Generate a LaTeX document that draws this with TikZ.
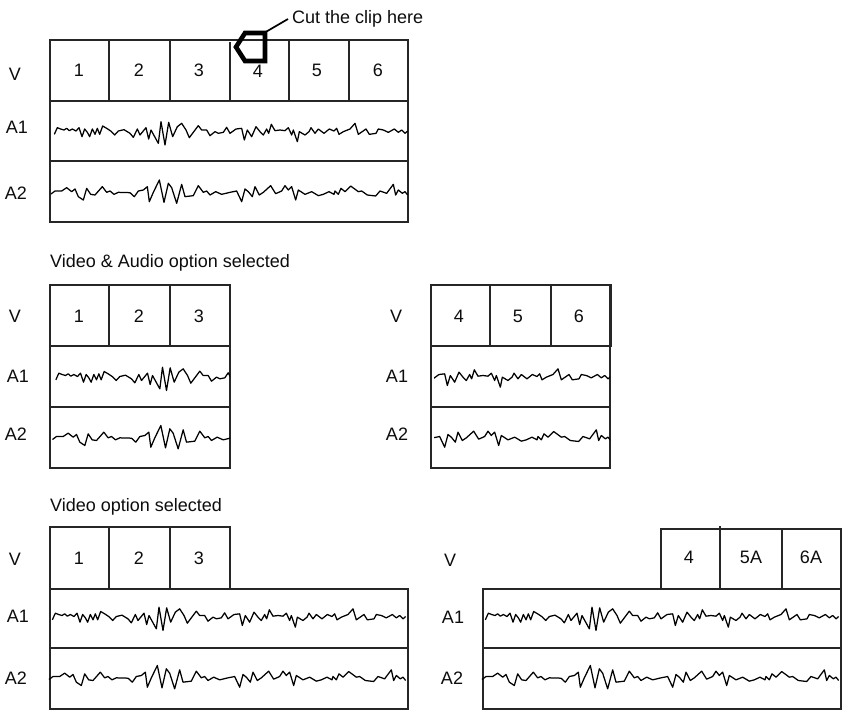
\documentclass[tikz,border=0pt]{standalone}
\usepackage{fontspec}
\setmainfont{Liberation Sans}
\newcommand{\waveOne}[1]{\begin{scope}[xshift=50pt,yshift=-115pt,xshift=#1,x=.33333pt,y=-.33333pt]
\draw[wave] plot coordinates {(13,58)(22,38)(32,42)(42,45)(50,40)(58,47)(67,42)(78,48)(87,38)(96,65)(104,42)(112,52)(119,65)(127,42)(135,58)(142,40)(149,58)(158,33)(170,40)(182,48)(194,60)(205,48)(222,44)(240,55)(250,67)(262,42)(270,60)(288,38)(296,72)(303,45)(325,85)(333,20)(345,90)(356,22)(368,65)(382,35)(395,25)(408,45)(418,68)(445,32)(455,45)(470,45)(480,62)(495,50)(505,55)(520,52)(530,37)(540,55)(558,42)(575,40)(583,75)(592,45)(605,65)(618,35)(630,50)(640,60)(650,42)(656,55)(664,28)(675,47)(690,45)(705,47)(715,38)(725,60)(730,45)(742,80)(748,50)(765,60)(777,50)(783,38)(795,55)(805,42)(822,55)(838,42)(852,48)(860,40)(867,58)(880,50)(900,42)(915,25)(925,58)(948,42)(958,58)(978,55)(985,42)(1000,45)(1015,52)(1033,42)(1045,52)(1055,45)(1065,55)(1073,48)};
\end{scope}}
\newcommand{\waveTwo}[1]{\begin{scope}[xshift=50pt,yshift=-115pt,xshift=#1,x=.33333pt,y=-.33333pt]
\draw[wave] plot coordinates {(3,237)(15,228)(35,228)(50,218)(65,230)(75,222)(85,245)(100,255)(110,220)(122,238)(135,240)(157,215)(170,232)(180,228)(192,238)(205,232)(240,233)(253,245)(265,228)(280,225)(292,215)(298,260)(310,232)(328,195)(342,262)(355,205)(365,218)(380,265)(395,208)(405,245)(430,242)(445,212)(460,232)(470,228)(480,240)(497,230)(515,238)(540,232)(560,228)(575,260)(585,222)(595,230)(607,245)(615,215)(628,240)(640,232)(662,212)(677,236)(695,228)(705,212)(715,225)(725,215)(737,255)(745,225)(765,238)(785,230)(805,242)(820,238)(837,230)(852,238)(855,228)(865,238)(873,220)(885,230)(902,213)(925,230)(935,228)(952,240)(977,243)(990,228)(1010,235)(1030,208)(1037,240)(1045,225)(1057,235)(1065,230)(1073,240)};
\end{scope}}
\tikzset{
 box/.style={line width=2.2pt,draw=black!85,line cap=rect},
 wave/.style={line width=1.25pt,line join=round,black},
 lab/.style={font=\fontsize{18}{20}\selectfont,text=black!95,inner sep=0pt,anchor=center,text height=12.5pt,text depth=0pt},
 head/.style={font=\fontsize{18}{20}\selectfont,text=black!95,inner sep=0pt,anchor=base west},
}
\begin{document}
\begin{tikzpicture}[x=1pt,y=-1pt]
\useasboundingbox[fill=white] (0,0) rectangle (847,718);
% top panel
\draw[box] (50,40) rectangle (408,222);
\draw[box] (50,101) -- (408,101) (50,161) -- (408,161);
\draw[box] (109,40) -- (109,99) (170,40) -- (170,101) (230,43) -- (230,101) (289,40) -- (289,101) (349,40) -- (349,101);
\waveOne{0pt}\waveTwo{0pt}
\node[lab] (tv) at (15,74) {V};
\node[lab] (ta1) at (17,127) {A1};
\node[lab] (ta2) at (16,193) {A2};
\node[lab] (t1) at (79,70) {1};
\node[lab] (t2) at (139,70) {2};
\node[lab] (t3) at (199,70) {3};
\node[lab] (t4) at (258,71) {4};
\node[lab] (t5) at (317,70) {5};
\node[lab] (t6) at (378,70) {6};
\coordinate (cutmark) at (264,33);
\node[head] (cut) at (292,23) {Cut the clip here};
\draw[line width=1.7pt,black] (cutmark) -- (288,19);
\draw[line width=4.6pt,black,line join=miter] (245,33) -- (265,33) -- (265,61) -- (245,61) -- (236,47) -- cycle;
% heading 2
\node[head] (h2) at (50,267.5) {Video \& Audio option selected};
% middle left
\draw[box] (50,285) rectangle (230,468);
\draw[box] (50,346) -- (230,346) (50,407) -- (230,407);
\draw[box] (109,285) -- (109,346) (170,287) -- (170,346);
\begin{scope}\clip (50,285) rectangle (230,468);
\begin{scope}[yshift=-245.5pt]\waveOne{1.5pt}\waveTwo{1.5pt}\end{scope}
\end{scope}
\node[lab] (mlv) at (15,316) {V};
\node[lab] (mla1) at (18,376) {A1};
\node[lab] (mla2) at (16,434) {A2};
\node[lab] (ml1) at (79,316) {1};
\node[lab] (ml2) at (139,316) {2};
\node[lab] (ml3) at (199,316) {3};
% middle right
\draw[box] (431,285) rectangle (610,468);
\draw[box] (431,346) -- (610,346) (431,407) -- (610,407);
\draw[box] (490,285) -- (490,346) (551,287) -- (551,346) (611,285) -- (611,346);
\begin{scope}\clip (434,285) rectangle (610,468);
\begin{scope}[yshift=-245.5pt]\waveOne{203pt}\waveTwo{203pt}\end{scope}
\end{scope}
\node[lab] (mrv) at (396,316) {V};
\node[lab] (mra1) at (397,376) {A1};
\node[lab] (mra2) at (397,434) {A2};
\node[lab] (mr4) at (459,316) {4};
\node[lab] (mr5) at (518,316) {5};
\node[lab] (mr6) at (579,316) {6};
% heading 3
\node[head] (h3) at (50,511) {Video option selected};
% bottom left
\draw[box] (50,589) -- (50,527) -- (230,527) (230,529) -- (230,589);
\draw[box] (109,527) -- (109,589) (170,527) -- (170,589);
\draw[box] (50,589) rectangle (408,709);
\draw[box] (50,648) -- (408,648);
\begin{scope}[yshift=-485.5pt]\waveOne{-2pt}\waveTwo{-2pt}\end{scope}
\node[lab] (blv) at (15,559) {V};
\node[lab] (bla1) at (18,616) {A1};
\node[lab] (bla2) at (16,678) {A2};
\node[lab] (bl1) at (79,558) {1};
\node[lab] (bl2) at (139,558) {2};
\node[lab] (bl3) at (199,558) {3};
% bottom right
\draw[box] (661,589) rectangle (841,529);
\draw[box] (720,527) -- (720,589) (782,529) -- (782,589);
\draw[box] (483,589) rectangle (841,709);
\draw[box] (483,648) -- (841,648);
\begin{scope}[yshift=-485.5pt]\waveOne{431pt}\waveTwo{431pt}\end{scope}
\node[lab] (brv) at (450,560) {V};
\node[lab] (bra1) at (453,617) {A1};
\node[lab] (bra2) at (452,678) {A2};
\node[lab] (br4) at (689,557) {4};
\node[lab] (br5) at (751,557) {5A};
\node[lab] (br6) at (811,557) {6A};
\end{tikzpicture}
\end{document}
